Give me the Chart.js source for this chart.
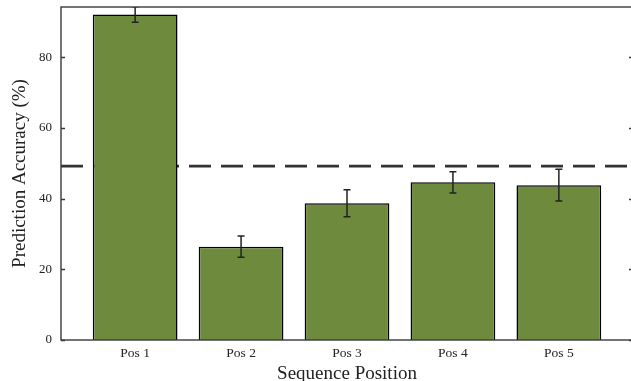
<!DOCTYPE html>
<html>
<head>
<meta charset="utf-8">
<script src="https://cdn.jsdelivr.net/npm/chart.js@4.4.1/dist/chart.umd.min.js"></script>
<style>
  html, body { margin: 0; padding: 0; background: #fff; overflow: hidden; }
  #wrap { width: 631px; height: 381px; overflow: hidden; }
</style>
</head>
<body>
<div id="wrap"><canvas id="chart" width="636" height="381"></canvas></div>
<script>
// --- data ---
const categories = ['Pos 1', 'Pos 2', 'Pos 3', 'Pos 4', 'Pos 5'];
const accuracy = [92.1, 26.4, 38.7, 44.6, 43.8];
const errors = [2.2, 3.0, 3.8, 3.0, 4.5];
const chanceLevel = 49.2;
const yTicks = [0, 20, 40, 60, 80];

const serif = "'Liberation Serif', 'DejaVu Serif', serif";
const xMin = -0.7, xMax = categories.length - 1 + 0.7;

// error bars, inward ticks and the frame
const extras = {
    id: 'extras',
    afterDatasetsDraw(chart) {
        const { ctx, chartArea: a, scales: { x, y } } = chart;
        ctx.save();
        ctx.beginPath();
        ctx.rect(a.left, a.top, a.right - a.left, a.bottom - a.top);
        ctx.clip();
        ctx.strokeStyle = '#222';
        ctx.lineWidth = 1.5;
        accuracy.forEach((v, i) => {
            const px = x.getPixelForValue(i);
            const top = y.getPixelForValue(v + errors[i]);
            const bot = y.getPixelForValue(v - errors[i]);
            ctx.beginPath();
            ctx.moveTo(px, top); ctx.lineTo(px, bot);
            ctx.moveTo(px - 3.5, top); ctx.lineTo(px + 3.5, top);
            ctx.moveTo(px - 3.5, bot); ctx.lineTo(px + 3.5, bot);
            ctx.stroke();
        });
        ctx.restore();
    },
    afterDraw(chart) {
        const { ctx, chartArea: a, scales: { y } } = chart;
        ctx.save();
        ctx.strokeStyle = '#3a3a3a';
        ctx.lineWidth = 1.4;
        ctx.strokeRect(a.left, a.top, a.right - a.left, a.bottom - a.top);
        ctx.beginPath();
        yTicks.forEach(t => {
            const py = Math.round(y.getPixelForValue(t)) + 0.5;
            ctx.moveTo(a.left, py); ctx.lineTo(a.left + 4, py);
            ctx.moveTo(a.right, py); ctx.lineTo(a.right - 4, py);
        });
        ctx.stroke();
        ctx.restore();
    }
};

new Chart(document.getElementById('chart'), {
    type: 'bar',
    data: {
        datasets: [{
            type: 'bar',
            data: accuracy.map((v, i) => ({ x: i, y: v })),
            backgroundColor: '#6e8b3d',
            borderColor: '#000',
            borderWidth: 1.5,
            categoryPercentage: 1,
            barPercentage: 0.8,
            order: 1
        }, {
            type: 'line',
            data: [{ x: xMin, y: chanceLevel }, { x: xMax, y: chanceLevel }],
            borderColor: '#333',
            borderWidth: 2.6,
            borderDash: [22, 10],
            pointRadius: 0,
            order: 2
        }]
    },
    options: {
        responsive: false,
        animation: false,
        layout: { padding: { top: 7, right: 3, left: 0, bottom: 0 } },
        plugins: { legend: { display: false }, tooltip: { enabled: false } },
        scales: {
            x: {
                type: 'linear',
                min: xMin,
                max: xMax,
                offset: false,
                grid: { display: false, drawTicks: false },
                border: { display: false },
                afterBuildTicks: s => { s.ticks = categories.map((c, i) => ({ value: i })); },
                afterFit: s => { s.height = 41; s.paddingLeft = 0; s.paddingRight = 0; },
                ticks: {
                    padding: 5,
                    color: '#222',
                    font: { family: serif, size: 13.5 },
                    callback: v => categories[v]
                },
                title: {
                    display: true,
                    text: 'Sequence Position',
                    color: '#222',
                    font: { family: serif, size: 19, lineHeight: 1 },
                    padding: { top: 0, bottom: -3 }
                }
            },
            y: {
                min: 0,
                max: 94.2,
                grid: { display: false, drawTicks: false },
                border: { display: false },
                afterBuildTicks: s => { s.ticks = yTicks.map(v => ({ value: v })); },
                afterFit: s => { s.width = 61; s.paddingTop = 0; s.paddingBottom = 0; },
                ticks: {
                    padding: 9,
                    color: '#222',
                    font: { family: serif, size: 13 }
                },
                title: {
                    display: true,
                    text: 'Prediction Accuracy (%)',
                    color: '#222',
                    font: { family: serif, size: 19, lineHeight: 1 },
                    padding: { top: 11, bottom: 0 }
                }
            }
        }
    },
    plugins: [extras]
});
</script>
</body>
</html>
